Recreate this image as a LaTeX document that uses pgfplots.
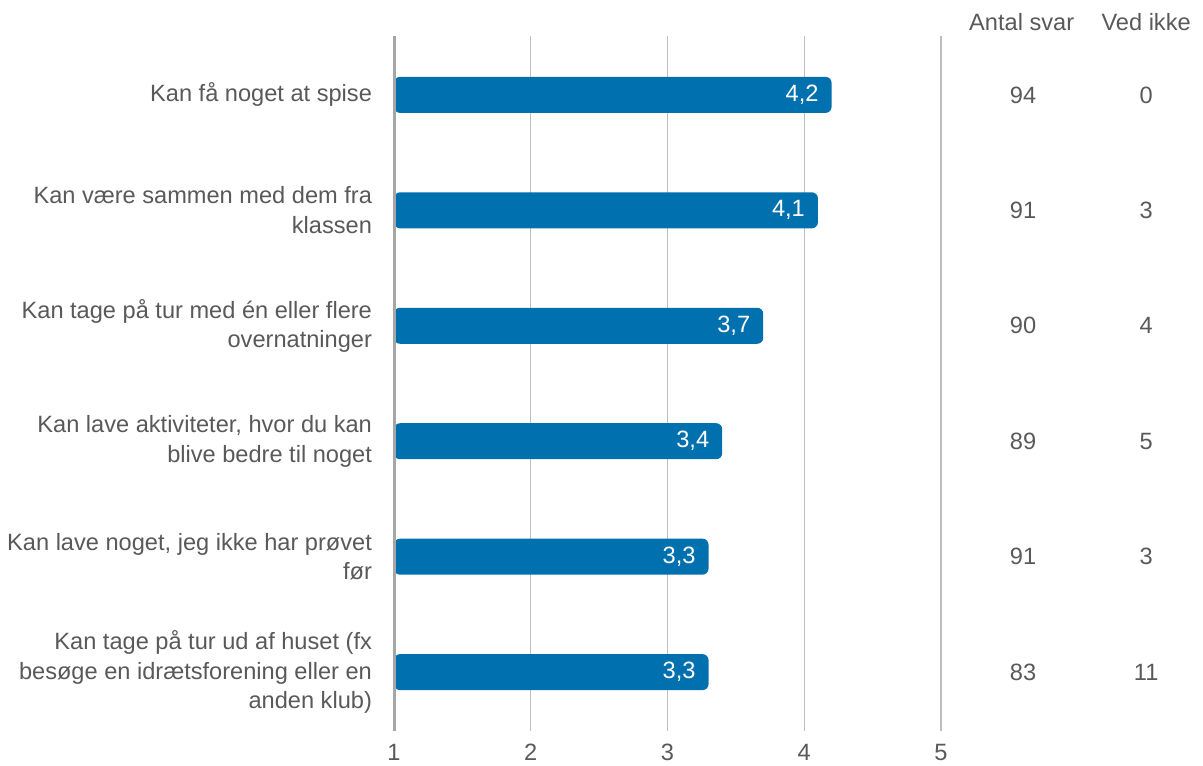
\documentclass[border=0pt]{standalone}
\usepackage{pgfplots}
\pgfplotsset{compat=1.18}
\usepackage{fontspec}
\setmainfont{Liberation Sans}
\definecolor{barblue}{RGB}{0,112,175}
\definecolor{txt}{RGB}{89,89,89}
\definecolor{gridc}{RGB}{191,191,191}
\definecolor{axc}{RGB}{166,166,166}
\begin{document}
\begin{tikzpicture}[x=1pt,y=1pt]
\useasboundingbox (0,0) rectangle (601.5,382.5);
\begin{axis}[
  at={(197pt,17pt)}, anchor=south west,
  scale only axis, width=273.5pt, height=347.5pt,
  xmin=1, xmax=5, ymin=-0.51, ymax=5.51, y dir=reverse,
  clip=false,
  xtick={1,2,3,4,5}, xticklabels={1,2,3,4,5},
  ytick={0,1,2,3,4,5},
  yticklabels={
    {Kan få noget at spise},
    {Kan være sammen med dem fra\\klassen},
    {Kan tage på tur med én eller flere\\overnatninger},
    {Kan lave aktiviteter, hvor du kan\\blive bedre til noget},
    {Kan lave noget, jeg ikke har prøvet\\før},
    {Kan tage på tur ud af huset (fx\\besøge en idrætsforening eller en\\anden klub)}
  },
  axis line style={draw=none}, major tick style={draw=none},
  xmajorgrids, grid style={gridc, line width=0.6pt},
  font=\fontsize{11.8}{14.8}\selectfont,
  every tick label/.append style={text=txt},
  yticklabel style={align=right, xshift=-7.5pt},
  xticklabel style={yshift=-3pt},
  /pgf/number format/.cd, use comma, fixed, fixed zerofill, precision=1, assume math mode=true,
]
\addplot[xbar, bar width=18pt, fill=barblue, draw=none, rounded corners=3pt,
  nodes near coords,
  every node near coord/.append style={anchor=east, xshift=-3pt, text=white}]
  coordinates {(4.2,0) (4.1,1) (3.7,2) (3.4,3) (3.3,4) (3.3,5)};
\draw[axc, line width=1.5pt] (axis cs:1,-0.51) -- (axis cs:1,5.51);
\addplot[draw=none, mark=none, nodes near coords, point meta=explicit symbolic,
  every node near coord/.append style={anchor=center, text=txt}]
  coordinates {(5.6,0)[94] (5.6,1)[91] (5.6,2)[90] (5.6,3)[89] (5.6,4)[91] (5.6,5)[83]};
\addplot[draw=none, mark=none, nodes near coords, point meta=explicit symbolic,
  every node near coord/.append style={anchor=center, text=txt}]
  coordinates {(6.5,0)[0] (6.5,1)[3] (6.5,2)[4] (6.5,3)[5] (6.5,4)[3] (6.5,5)[11]};
\node[text=txt, anchor=base] at (axis cs:5.59,-0.56) {Antal svar};
\node[text=txt, anchor=base] at (axis cs:6.5,-0.56) {Ved ikke};
\end{axis}
\end{tikzpicture}
\end{document}
